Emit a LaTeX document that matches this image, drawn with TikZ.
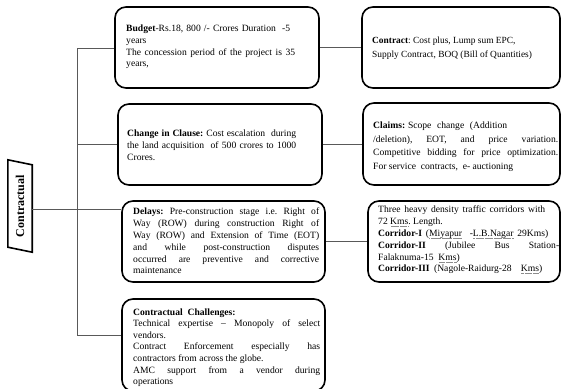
\documentclass[tikz,border=0pt]{standalone}
\usepackage{fontspec}
\setmainfont{Liberation Serif}
\usepackage{graphicx}
\usetikzlibrary{calc}
\frenchspacing

% a line spread to a given width, a natural line, a dotted-underlined word
% (the font's own interword glue is restored inside each line box)
\newcommand\jw[2]{\leavevmode\hbox to #1pt{\spaceskip=0pt\xspaceskip=0pt #2}}
\newcommand\nl[1]{\leavevmode\hbox{\spaceskip=0pt\xspaceskip=0pt #1}}
\newcommand\dul[1]{\leavevmode\setbox0\hbox{#1}%
  \rlap{\raisebox{-2pt}{\hbox to \wd0{\color{black!45}%
    \xleaders\hbox to 1.1pt{\hss\rule{0.5pt}{0.5pt}\hss}\hfill}}}\box0\relax}

\tikzset{
  card/.style={draw, line width=1.6pt, rounded corners=11pt, inner sep=0pt},
  txt/.style={inner sep=0pt, anchor=west, align=left,
              font=\fontsize{9.6}{11.8}\selectfont},
  link/.style={draw=black!65, line width=0.8pt},
}

\begin{document}
\begin{tikzpicture}[x=1pt,y=-1pt]
\useasboundingbox[fill=white] (0,0) rectangle (561,388);

% left label
\node[inner sep=0pt, minimum width=24pt, minimum height=92pt,
      font=\bfseries\fontsize{12}{12}\selectfont] (ctr) at (20,206)
      {\rotatebox{90}{Contractual}};
\draw[line width=1.6pt, line join=miter]
  (ctr.north west) -- ($(ctr.north east)+(0,5)$) -- (ctr.south east)
  -- ($(ctr.south west)+(0,-5)$) -- cycle;

% boxes
\node[card, minimum width=204pt, minimum height=81pt] (budget)   at (217,47.5) {};
\node[card, minimum width=198pt, minimum height=81pt] (contract) at (461,47.5) {};
\node[card, minimum width=204pt, minimum height=81pt] (change)   at (220,144.5) {};
\node[card, minimum width=197pt, minimum height=82pt] (claims)   at (461.5,144) {};
\node[card, minimum width=203pt, minimum height=81pt] (delays)   at (223.5,241.5) {};
\node[card, minimum width=192pt, minimum height=81pt] (corridor) at (464,241.5) {};
\node[card, minimum width=203pt, minimum height=92pt] (chall)    at (223.5,345) {};

% texts
\node[txt, text width=170pt] (budgetT) at (126,47)
  {\jw{164}{\textbf{Budget}-Rs.18, 800 /- Crores Duration \ -5}\\
   years\\
   \jw{169}{The concession period of the project is 35}\\
   years,};

\node[txt, text width=180pt, font=\fontsize{9.4}{14}\selectfont] (contractT) at (372,48.5)
  {\nl{\textbf{Contract}:\ Cost plus,\ Lump\ sum EPC,}\\
   \nl{Supply\ Contract,\ BOQ (Bill\ of Quantities)}};

\node[txt, text width=185pt] (changeT) at (127,145.5)
  {\jw{169}{\textbf{Change in Clause:} Cost escalation\ \ during}\\
   \jw{169}{the land acquisition\ \ of 500 crores to 1000}\\
   Crores.};

\node[txt, text width=186pt, font=\fontsize{9.6}{13.5}\selectfont] (claimsT) at (373,146.5)
  {\jw{134}{\textbf{Claims:} Scope\ \ change\ \ (Addition}\\
   \jw{185}{/deletion), EOT, and price variation.}\\
   \jw{185}{Competitive bidding for price optimization.}\\
   \nl{For service\ \ contracts,\ \ e- auctioning}};

\node[txt, text width=186pt] (delaysT) at (133,241)
  {\jw{186}{\textbf{Delays:} Pre-construction stage i.e. Right of}\\
   \jw{186}{Way (ROW) during construction Right of}\\
   \jw{186}{Way (ROW) and Extension of Time (EOT)}\\
   \jw{186}{and while post-construction disputes}\\
   \jw{186}{occurred are preventive and corrective}\\
   maintenance};

\node[txt, text width=182pt] (corridorT) at (378,240)
  {\jw{167}{Three heavy density traffic corridors with}\\
   \nl{72 \dul{Kms}. Length.}\\
   \jw{170}{\textbf{Corridor-I} (\dul{Miyapur}\ \ -\dul{L.B.Nagar} 29Kms)}\\
   \jw{181}{\textbf{Corridor-II} (Jubilee Bus Station-}\\
   \nl{Falaknuma-15\ \ \dul{Kms})}\\
   \jw{164}{\textbf{Corridor-III} (Nagole-Raidurg-28\ \ \dul{Kms})}};

\node[txt, text width=187pt, font=\fontsize{9.6}{11.6}\selectfont] (challT) at (133,347.5)
  {\nl{\textbf{Contractual\ \ Challenges:}}\\
   \jw{187}{Technical expertise -- Monopoly of select}\\
   vendors.\\
   \jw{187}{Contract Enforcement especially has}\\
   \nl{contractors from across the globe.}\\
   \jw{187}{AMC support from a vendor during}\\
   operations};

% connectors
\coordinate (t1) at (77,48);
\coordinate (t3) at (77,209);
\coordinate (t4) at (77,335);
\draw[link] (t1) -- (t4);
\draw[link] (t1) -- (t1 -| budget.west);
\draw[link] (t1 |- change.west) -- (change.west);
\draw[link] (t3 -| ctr.east) -- (t3 -| delays.west);
\draw[link] (t4) -- (t4 -| chall.west);
\draw[link] (budget.east) -- (contract.west);
\draw[link] (change.east) -- (change.east -| claims.west);
\draw[link] (delays.east) -- (delays.east -| corridor.west);
\end{tikzpicture}
\end{document}
